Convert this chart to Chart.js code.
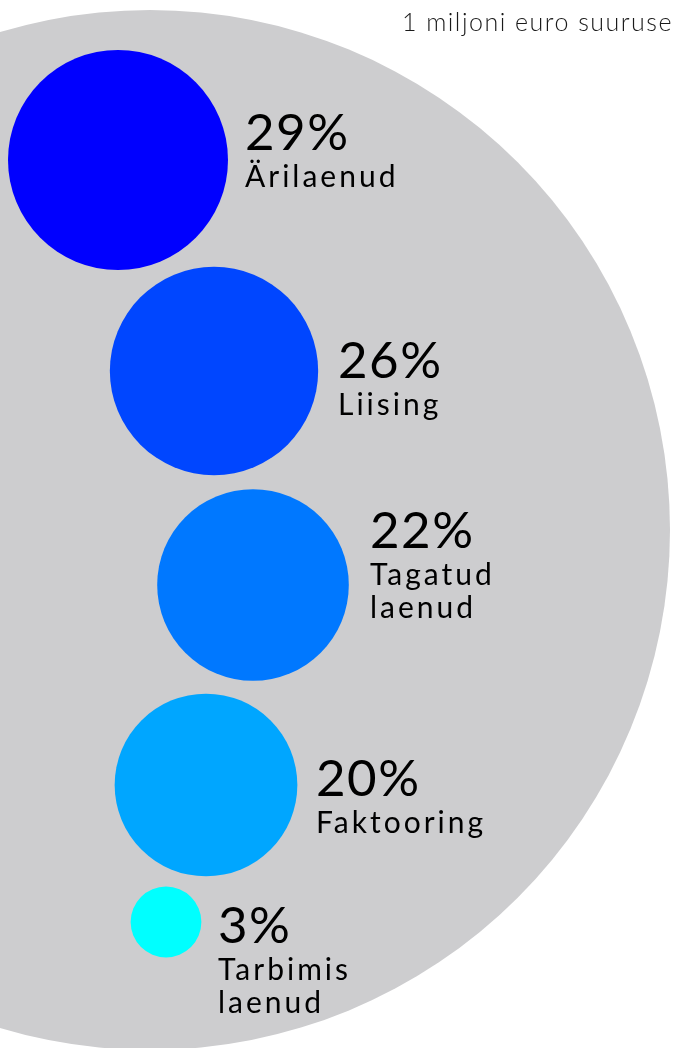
<!DOCTYPE html>
<html>
<head>
<meta charset="utf-8">
<script src="https://cdn.jsdelivr.net/npm/chart.js@4/dist/chart.umd.min.js"></script>
<style>
html,body{margin:0;padding:0;background:#fff;}
#wrap{position:relative;width:673px;height:1048px;overflow:hidden;}
</style>
</head>
<body>
<div id="wrap"><canvas id="c" width="673" height="1048"></canvas></div>
<script>
// ---- data ----
const categories = ["Ärilaenud", "Liising", "Tagatud laenud", "Faktooring", "Tarbimis laenud"];
const labelLines = [["Ärilaenud"], ["Liising"], ["Tagatud", "laenud"], ["Faktooring"], ["Tarbimis", "laenud"]];
const shares = [29, 26, 22, 20, 3];
const subtitle = "1 miljoni euro suuruse";

// ---- layout (pixels, not data) ----
const bubbleCenters = [[118, 160], [214, 371], [253, 585], [206, 785], [166, 922]];
const labelAnchors = [[245, 150], [338, 378], [370, 548], [316, 796], [218, 943]];
const colors = ["#0000ff", "#0046ff", "#0078ff", "#00a6ff", "#00ffff"];
const bigCircle = {x: 150, y: 530, r: 520, color: "#cdcdcf"};
const radiusPerSqrt = 110 / Math.sqrt(29);

const mainData = shares.map((v, i) => ({
  x: bubbleCenters[i][0], y: bubbleCenters[i][1], r: radiusPerSqrt * Math.sqrt(v)
}));

const labelPlugin = {
  id: 'labels',
  afterDatasetsDraw(chart) {
    const ctx = chart.ctx;
    ctx.save();
    ctx.fillStyle = '#000';
    ctx.textBaseline = 'alphabetic';
    ctx.textAlign = 'left';
    shares.forEach((v, i) => {
      const [lx, ly] = labelAnchors[i];
      ctx.font = '400 51px Lato';
      ctx.letterSpacing = '1.5px';
      ctx.fillText(v + '%', lx, ly);
      ctx.font = '400 30px Lato';
      ctx.letterSpacing = '3px';
      labelLines[i].forEach((t, j) => ctx.fillText(t, lx, ly + 37 + j * 33));
    });
    ctx.font = '300 25px Lato';
    ctx.letterSpacing = '1.5px';
    ctx.textAlign = 'right';
    ctx.fillStyle = '#1a1a1a';
    ctx.fillText(subtitle, 673, 31);
    ctx.restore();
  }
};

new Chart(document.getElementById('c'), {
  type: 'bubble',
  data: {
    datasets: [
      {
        label: 'bg',
        data: [{x: bigCircle.x, y: bigCircle.y, r: bigCircle.r}],
        backgroundColor: bigCircle.color,
        borderWidth: 0,
        clip: false,
        order: 2
      },
      {
        label: 'shares',
        data: mainData,
        backgroundColor: colors,
        borderWidth: 0,
        clip: false,
        order: 1
      }
    ]
  },
  options: {
    responsive: false,
    animation: false,
    events: [],
    layout: {padding: 0, autoPadding: false},
    plugins: {legend: {display: false}, tooltip: {enabled: false}},
    scales: {
      x: {type: 'linear', min: 0, max: 673, display: false},
      y: {type: 'linear', min: 0, max: 1048, reverse: true, display: false}
    }
  },
  plugins: [labelPlugin]
});
</script>
</body>
</html>
